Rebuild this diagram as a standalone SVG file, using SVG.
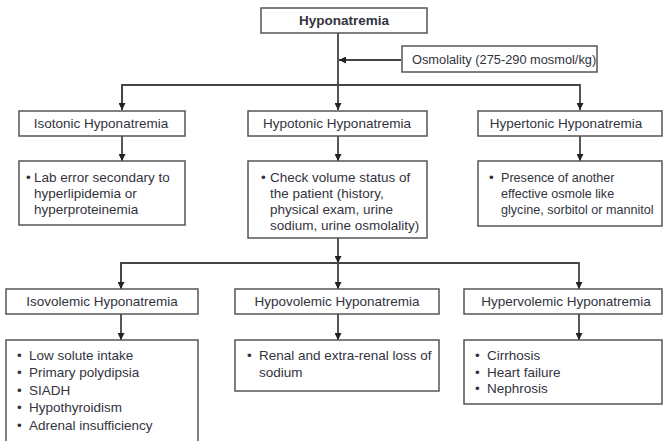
<svg xmlns="http://www.w3.org/2000/svg" width="665" height="441" viewBox="0 0 665 441">
<style>
  .box { fill: #ffffff; stroke: #555555; stroke-width: 1.5; }
  .t { font-family: "Liberation Sans", Arial, sans-serif; font-size: 13.5px; fill: #333340; }
  .c { text-anchor: middle; }
  .b { font-weight: bold; }
  .s { font-size: 12.6px; }
  .line { fill: none; stroke: #444444; stroke-width: 1.8; }
</style>
<defs>
  <marker id="arr" viewBox="0 0 10 10" refX="10" refY="5" markerWidth="7" markerHeight="7" markerUnits="userSpaceOnUse" orient="auto">
    <path d="M0,0 L10,5 L0,10 z" fill="#222222"/>
  </marker>
</defs>
<rect width="665" height="441" fill="#ffffff"/>

<g id="connectors">
  <path class="line" d="M338,33 V110" marker-end="url(#arr)"/>
  <path class="line" d="M401,60 H339" marker-end="url(#arr)"/>
  <path class="line" d="M122,110 V85 H580 V110" marker-end="url(#arr)"/>
  <path class="line" d="M122,85 V110" marker-end="url(#arr)"/>
  <path class="line" d="M122,136 V161" marker-end="url(#arr)"/>
  <path class="line" d="M338,136 V161" marker-end="url(#arr)"/>
  <path class="line" d="M580,136 V161" marker-end="url(#arr)"/>
  <path class="line" d="M338,238 V263" marker-end="url(#arr)"/>
  <path class="line" d="M121,289 V263 H579 V289" marker-end="url(#arr)"/>
  <path class="line" d="M121,263 V289" marker-end="url(#arr)"/>
  <path class="line" d="M338,263 V289" marker-end="url(#arr)"/>
  <path class="line" d="M121,314 V340" marker-end="url(#arr)"/>
  <path class="line" d="M338,314 V340" marker-end="url(#arr)"/>
  <path class="line" d="M579,314 V340" marker-end="url(#arr)"/>
</g>

<g id="hyponatremia">
  <rect class="box" x="261" y="8" width="166" height="25"/>
  <text class="t c b" x="344" y="25">Hyponatremia</text>
</g>
<g id="osmolality">
  <rect class="box" x="402" y="46" width="195" height="26"/>
  <text class="t" x="412" y="64" style="font-size:12.8px">Osmolality (275-290 mosmol/kg)</text>
</g>

<g id="isotonic">
  <rect class="box" x="19" y="111" width="166" height="25"/>
  <text class="t c" x="101" y="128">Isotonic Hyponatremia</text>
</g>
<g id="hypotonic">
  <rect class="box" x="248" y="111" width="179" height="25"/>
  <text class="t c" x="337" y="128">Hypotonic Hyponatremia</text>
</g>
<g id="hypertonic">
  <rect class="box" x="478" y="111" width="184" height="25"/>
  <text class="t c" x="566" y="128">Hypertonic Hyponatremia</text>
</g>

<g id="isotonic-detail">
  <rect class="box" x="19" y="161" width="166" height="64"/>
  <text class="t" x="26" y="182">•</text>
  <text class="t" x="34" y="182">Lab error secondary to</text>
  <text class="t" x="34" y="198">hyperlipidemia or</text>
  <text class="t" x="34" y="214">hyperproteinemia</text>
</g>
<g id="hypotonic-detail">
  <rect class="box" x="248" y="161" width="179" height="77"/>
  <text class="t" x="261" y="182">•</text>
  <text class="t" x="270" y="182">Check volume status of</text>
  <text class="t" x="270" y="198">the patient (history,</text>
  <text class="t" x="270" y="214">physical exam, urine</text>
  <text class="t" x="270" y="230">sodium, urine osmolality)</text>
</g>
<g id="hypertonic-detail">
  <rect class="box" x="478" y="161" width="184" height="65"/>
  <text class="t" x="489" y="182">•</text>
  <text class="t s" x="501" y="182">Presence of another</text>
  <text class="t s" x="501" y="198">effective osmole like</text>
  <text class="t s" x="501" y="214">glycine, sorbitol or mannitol</text>
</g>

<g id="isovolemic">
  <rect class="box" x="6" y="289" width="192" height="25"/>
  <text class="t c" x="102" y="306">Isovolemic Hyponatremia</text>
</g>
<g id="hypovolemic">
  <rect class="box" x="235" y="289" width="204" height="25"/>
  <text class="t c" x="337" y="306">Hypovolemic Hyponatremia</text>
</g>
<g id="hypervolemic">
  <rect class="box" x="464" y="289" width="198" height="25"/>
  <text class="t c" x="566" y="306">Hypervolemic Hyponatremia</text>
</g>

<g id="isovolemic-detail">
  <rect class="box" x="6" y="340" width="192" height="110"/>
  <text class="t" x="17" y="360">•</text>
  <text class="t" x="29" y="360">Low solute intake</text>
  <text class="t" x="17" y="377">•</text>
  <text class="t" x="29" y="377">Primary polydipsia</text>
  <text class="t" x="17" y="395">•</text>
  <text class="t" x="29" y="395">SIADH</text>
  <text class="t" x="17" y="412">•</text>
  <text class="t" x="29" y="412">Hypothyroidism</text>
  <text class="t" x="17" y="430">•</text>
  <text class="t" x="29" y="430">Adrenal insufficiency</text>
</g>
<g id="hypovolemic-detail">
  <rect class="box" x="235" y="340" width="204" height="51"/>
  <text class="t" x="247" y="360">•</text>
  <text class="t" x="259" y="360">Renal and extra-renal loss of</text>
  <text class="t" x="259" y="377">sodium</text>
</g>
<g id="hypervolemic-detail">
  <rect class="box" x="464" y="340" width="198" height="64"/>
  <text class="t" x="475" y="360">•</text>
  <text class="t" x="487" y="360">Cirrhosis</text>
  <text class="t" x="475" y="377">•</text>
  <text class="t" x="487" y="377">Heart failure</text>
  <text class="t" x="475" y="393">•</text>
  <text class="t" x="487" y="393">Nephrosis</text>
</g>
</svg>
